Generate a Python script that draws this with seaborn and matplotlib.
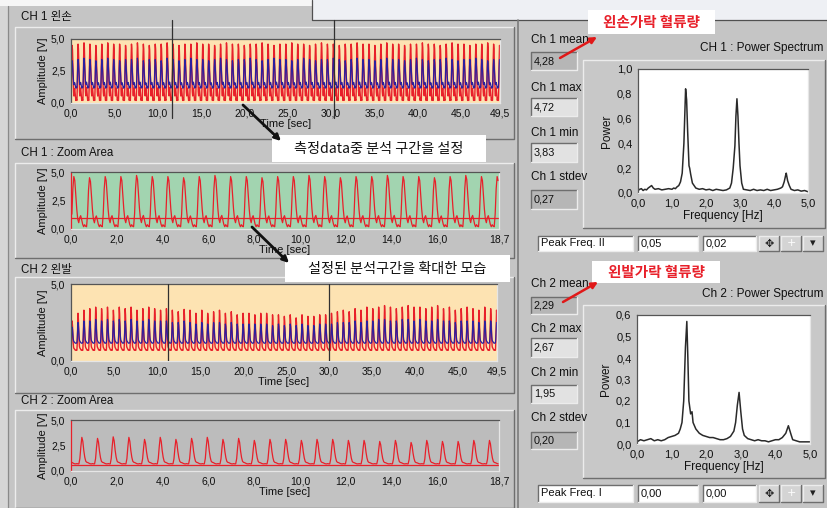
import numpy as np
import pandas as pd
import matplotlib
matplotlib.use("Agg")
import matplotlib.pyplot as plt
import seaborn as sns
from matplotlib.patches import Rectangle, FancyArrowPatch, Arc

# ---------------------------------------------------------------- data
PERIOD = 0.685          # seconds per pulse
T_END = 49.5            # record length [s]
ZOOM_LEN = 18.7         # zoom window length [s]

# one-cycle pulse shapes (0 = trough, 1 = peak), 16 samples per cycle
shape_ch1_red = [0.00, 0.25, 0.75, 1.00, 0.92, 0.65, 0.35, 0.15,
                 0.08, 0.18, 0.22, 0.14, 0.05, 0.00, 0.04, 0.01]
shape_ch1_blue = [0.05, 0.30, 0.75, 1.00, 0.90, 0.65, 0.40, 0.22,
                  0.15, 0.20, 0.22, 0.15, 0.08, 0.03, 0.06, 0.04]
shape_ch2_red = [0.00, 0.20, 0.65, 1.00, 0.85, 0.50, 0.25, 0.10,
                 0.06, 0.05, 0.03, 0.01, 0.00, 0.00, 0.01, 0.00]
shape_ch2_blue = [0.03, 0.25, 0.65, 1.00, 0.88, 0.55, 0.30, 0.15,
                  0.10, 0.08, 0.05, 0.02, 0.01, 0.00, 0.01, 0.01]

# per-cycle peak levels [V]
ch1_red_peaks = [4.5, 4.6, 4.7, 4.6, 4.5, 4.6, 4.7, 4.6, 4.6, 4.5,
                 4.6, 4.7, 4.6, 4.5, 4.6, 4.6, 4.7, 4.6, 4.5, 4.6,
                 4.6, 4.7, 4.6, 4.6, 4.5, 4.6, 4.7, 4.6, 4.6, 4.5,
                 4.6, 4.6, 4.7, 4.6, 4.5, 4.6, 4.6, 4.7, 4.6, 4.6,
                 4.5, 4.6, 4.7, 4.6, 4.6, 4.5, 4.6, 4.6, 4.7, 4.6,
                 4.6, 4.5, 4.6, 4.7, 4.6, 4.6, 4.5, 4.6, 4.6, 4.7,
                 4.6, 4.6, 4.5, 4.6, 4.7, 4.6, 4.6, 4.5, 4.6, 4.6,
                 4.7, 4.6, 4.5]
ch1_blue_peaks = [3.3, 3.4, 3.5, 3.4, 3.3, 3.4, 3.5, 3.4, 3.3, 3.4,
                  3.4, 3.5, 3.3, 3.4, 3.4, 3.3, 3.5, 3.4, 3.3, 3.4,
                  3.5, 3.4, 3.4, 3.3, 3.4, 3.5, 3.4, 3.3, 3.4, 3.4,
                  3.5, 3.4, 3.3, 3.4, 3.5, 3.4, 3.4, 3.3, 3.4, 3.5,
                  3.4, 3.3, 3.4, 3.4, 3.5, 3.4, 3.3, 3.4, 3.5, 3.4,
                  3.4, 3.3, 3.4, 3.5, 3.4, 3.4, 3.3, 3.4, 3.5, 3.4,
                  3.3, 3.4, 3.4, 3.5, 3.4, 3.3, 3.4, 3.4, 3.5, 3.4,
                  3.3, 3.4, 3.4]
ch2_red_peaks = [2.6, 3.1, 3.3, 3.4, 3.5, 3.4, 3.5, 3.3, 3.5, 3.4,
                 3.5, 3.3, 3.4, 3.5, 3.4, 3.3, 3.4, 3.3, 3.2, 3.35,
                 3.3, 3.1, 3.3, 3.1, 3.2, 3.3, 3.1, 3.2, 3.0, 3.1,
                 3.1, 3.0, 3.1, 3.1, 3.0, 3.0, 2.9, 3.0, 2.8, 3.0,
                 2.9, 2.9, 3.0, 3.0, 3.1, 3.2, 3.3, 3.2, 3.4, 3.3,
                 3.5, 3.4, 3.5, 3.6, 3.5, 3.4, 3.5, 3.6, 3.5, 3.5,
                 3.4, 3.5, 3.6, 3.4, 3.5, 3.3, 3.4, 3.5, 3.4, 3.3,
                 3.5, 3.4, 3.3]
ch2_blue_peaks = [2.2, 2.5, 2.6, 2.6, 2.7, 2.6, 2.7, 2.6, 2.7, 2.6,
                  2.7, 2.6, 2.6, 2.7, 2.6, 2.6, 2.6, 2.5, 2.5, 2.6,
                  2.5, 2.4, 2.5, 2.4, 2.5, 2.5, 2.4, 2.5, 2.4, 2.4,
                  2.4, 2.4, 2.4, 2.4, 2.3, 2.4, 2.3, 2.4, 2.3, 2.4,
                  2.3, 2.3, 2.4, 2.4, 2.4, 2.5, 2.5, 2.5, 2.6, 2.5,
                  2.6, 2.6, 2.7, 2.7, 2.6, 2.6, 2.7, 2.7, 2.6, 2.7,
                  2.6, 2.6, 2.7, 2.6, 2.6, 2.5, 2.6, 2.6, 2.6, 2.5,
                  2.6, 2.6, 2.5]
ch1_red_base, ch1_blue_base = 0.2, 1.1
ch2_red_base, ch2_blue_base = 0.7, 1.15

ch1_cursors = [11.65, 30.35]
ch2_cursors = [11.3, 30.0]
ch1_level = 1.0
ch2_level = 0.55

# power spectra
spec1_freq = [0.00, 0.05, 0.10, 0.15, 0.20, 0.25, 0.30, 0.35, 0.40, 0.45,
              0.50, 0.60, 0.70, 0.80, 0.90, 1.00, 1.05, 1.10, 1.15, 1.20,
              1.25, 1.30, 1.35, 1.40, 1.43, 1.46, 1.50, 1.52, 1.55, 1.60,
              1.65, 1.70, 1.80, 1.90, 2.00, 2.10, 2.20, 2.30, 2.40, 2.50,
              2.60, 2.70, 2.75, 2.80, 2.85, 2.88, 2.91, 2.94, 2.97, 3.00,
              3.05, 3.10, 3.20, 3.30, 3.40, 3.50, 3.60, 3.70, 3.80, 3.90,
              4.00, 4.10, 4.20, 4.25, 4.30, 4.34, 4.36, 4.40, 4.45, 4.50,
              4.60, 4.70, 4.80, 4.90, 5.00]
spec1_power = [0.02, 0.03, 0.035, 0.02, 0.03, 0.025, 0.04, 0.05, 0.06, 0.04,
               0.03, 0.035, 0.025, 0.03, 0.035, 0.03, 0.04, 0.035, 0.05, 0.06,
               0.09, 0.16, 0.40, 0.84, 0.75, 0.50, 0.22, 0.20, 0.15, 0.08,
               0.06, 0.04, 0.03, 0.035, 0.025, 0.03, 0.02, 0.03, 0.025, 0.02,
               0.025, 0.04, 0.08, 0.20, 0.38, 0.62, 0.76, 0.62, 0.40, 0.22,
               0.08, 0.03, 0.025, 0.02, 0.03, 0.02, 0.025, 0.02, 0.03, 0.02,
               0.025, 0.03, 0.04, 0.05, 0.09, 0.14, 0.16, 0.10, 0.06, 0.03,
               0.02, 0.025, 0.015, 0.02, 0.01]
spec2_freq = [0.00, 0.10, 0.20, 0.30, 0.40, 0.50, 0.60, 0.70, 0.80, 0.90,
              1.00, 1.10, 1.20, 1.25, 1.30, 1.35, 1.40, 1.44, 1.47, 1.50,
              1.55, 1.59, 1.62, 1.70, 1.80, 1.90, 2.00, 2.10, 2.20, 2.30,
              2.40, 2.50, 2.60, 2.70, 2.80, 2.85, 2.90, 2.95, 3.00, 3.05,
              3.10, 3.20, 3.30, 3.40, 3.50, 3.60, 3.70, 3.80, 3.90, 4.00,
              4.10, 4.20, 4.30, 4.375, 4.45, 4.50, 4.60, 4.70, 4.80, 4.90,
              5.00]
spec2_power = [0.01, 0.02, 0.015, 0.02, 0.025, 0.015, 0.02, 0.015, 0.02, 0.03,
               0.035, 0.04, 0.05, 0.07, 0.10, 0.20, 0.45, 0.57, 0.40, 0.20,
               0.14, 0.15, 0.10, 0.07, 0.05, 0.04, 0.035, 0.03, 0.03, 0.025,
               0.02, 0.02, 0.025, 0.035, 0.06, 0.10, 0.18, 0.24, 0.15, 0.07,
               0.04, 0.025, 0.02, 0.015, 0.02, 0.015, 0.015, 0.01, 0.015, 0.02,
               0.02, 0.03, 0.05, 0.085, 0.045, 0.02, 0.015, 0.01, 0.01, 0.01,
               0.01]

stats_ch1 = [("Ch 1 mean", "4,28"), ("Ch 1 max", "4,72"),
             ("Ch 1 min", "3,83"), ("Ch 1 stdev", "0,27")]
stats_ch2 = [("Ch 2 mean", "2,29"), ("Ch 2 max", "2,67"),
             ("Ch 2 min", "1,95"), ("Ch 2 stdev", "0,20")]
peak_ch1 = ["Peak Freq. II", "0,05", "0,02"]
peak_ch2 = ["Peak Freq. I", "0,00", "0,00"]

ov_xticks = [0, 5, 10, 15, 20, 25, 30, 35, 40, 45, 49.5]
zm_xticks = [0, 2, 4, 6, 8, 10, 12, 14, 16, 18.7]


def build(peaks, base, shape):
    n = len(shape)
    t, v = [], []
    for k, pk in enumerate(peaks):
        for j, s in enumerate(shape):
            t.append((k + j / n) * PERIOD)
            v.append(base + s * (pk - base))
    df = pd.DataFrame({"t": t, "v": v})
    return df[df.t <= T_END].reset_index(drop=True)


def window(df, start):
    w = df[(df.t >= start) & (df.t <= start + ZOOM_LEN)].copy()
    w["t"] = w["t"] - start
    return w


ch1_red = build(ch1_red_peaks, ch1_red_base, shape_ch1_red)
ch1_blue = build(ch1_blue_peaks, ch1_blue_base, shape_ch1_blue)
ch2_red = build(ch2_red_peaks, ch2_red_base, shape_ch2_red)
ch2_blue = build(ch2_blue_peaks, ch2_blue_base, shape_ch2_blue)
ch1_zoom = window(ch1_red, ch1_cursors[0])
ch2_zoom = window(ch2_red, ch2_cursors[0])
spec1 = pd.DataFrame({"f": spec1_freq, "p": spec1_power})
spec2 = pd.DataFrame({"f": spec2_freq, "p": spec2_power})

# ---------------------------------------------------------------- style
sns.set_style("white")
plt.rcParams["font.family"] = ["Liberation Sans", "Noto Sans CJK KR", "DejaVu Sans"]
NARROW = ["Liberation Sans", "DejaVu Sans"]
KOR = ["Liberation Sans", "Noto Sans CJK KR"]

W, H = 827, 508
PANEL = "#c5c5c5"
RED = "#e8202a"
BLUE = "#2c1f9e"
ORANGE = "#fde3b2"
GREEN = "#a2d4b0"

fig = plt.figure(figsize=(W / 100, H / 100), dpi=100, facecolor=PANEL)

bg = fig.add_axes([0, 0, 1, 1])
bg.set_xlim(0, W)
bg.set_ylim(H, 0)
bg.axis("off")
bg.set_zorder(-5)

fg = fig.add_axes([0, 0, 1, 1])
fg.set_xlim(0, W)
fg.set_ylim(H, 0)
fg.axis("off")
fg.patch.set_alpha(0)
fg.set_zorder(20)


def rect(ax, x0, y0, x1, y1, face, edge="none", lw=0.8, z=1):
    ax.add_patch(Rectangle((x0, y0), x1 - x0, y1 - y0, facecolor=face,
                           edgecolor=edge, lw=lw, zorder=z))


def bevel(ax, x0, y0, x1, y1, face, sunken=False, light="#ececec",
          dark="#6e6e6e", lw=1.0, z=1):
    rect(ax, x0, y0, x1, y1, face, z=z)
    tl, br = (dark, light) if sunken else (light, dark)
    ax.plot([x0, x0, x1], [y1, y0, y0], color=tl, lw=lw, zorder=z + 0.1)
    ax.plot([x0, x1, x1], [y1, y1, y0], color=br, lw=lw, zorder=z + 0.1)


def px_axes(x0, y0, x1, y1):
    return fig.add_axes([x0 / W, 1 - y1 / H, (x1 - x0) / W, (y1 - y0) / H])


def comma(v, _=None):
    return f"{v:.1f}".replace(".", ",")


def style(ax, face, xlim, xticks, ylim, yticks, xlabel, ylabel,
          xlabelpad=0, ylabelpad=1):
    ax.set_facecolor(face)
    ax.set_xlim(*xlim)
    ax.set_ylim(*ylim)
    ax.set_xticks(xticks)
    ax.set_yticks(yticks)
    ax.set_xticklabels([comma(v) for v in xticks], family=NARROW, fontsize=7.5)
    ax.set_yticklabels([comma(v) for v in yticks], family=NARROW, fontsize=7.5)
    ax.tick_params(length=3, width=0.8, color="#202020", pad=1,
                   labelcolor="#101010")
    ax.set_xlabel(xlabel, fontsize=8, labelpad=xlabelpad, color="#101010")
    ax.set_ylabel(ylabel, fontsize=8, labelpad=ylabelpad, color="#101010")
    for s in ("left", "top"):
        ax.spines[s].set_color("#555555")
        ax.spines[s].set_linewidth(0.9)
    for s in ("right", "bottom"):
        ax.spines[s].set_color("#e6e6e6")
        ax.spines[s].set_linewidth(0.9)


# ---------------------------------------------------------------- panel chrome
rect(bg, 0, 0, W, H, PANEL, z=0)
rect(bg, 0, 0, W, 6, "#f6f6f6", z=0.5)
rect(bg, 312, 0, W, 20, "#eef0f4", z=0.5)
bg.plot([312, 312, W], [0, 20, 20], color="#505050", lw=0.9, zorder=0.6)
rect(bg, 0, 6, 8, H, "#d6d6d6", z=0.5)
bg.plot([8, 8], [6, H], color="#8a8a8a", lw=0.9, zorder=0.6)
bg.add_patch(Arc((205, -2), 28, 26, theta1=190, theta2=350, color="#707070",
                 lw=2.2, zorder=0.7))
bg.plot([518, 518], [20, H], color="#7c7c7c", lw=1.2, zorder=0.6)

left_frames = [(27, 139), (163, 258), (277, 393), (410, 508)]
for y0, y1 in left_frames:
    bevel(bg, 15, y0, 514, y1, "#c2c2c2", z=1)
headers = [("CH 1 왼손", 17), ("CH 1 : Zoom Area", 153),
           ("CH 2 왼발", 270), ("CH 2 : Zoom Area", 401)]
for txt, y in headers:
    bg.text(21, y, txt, fontsize=8.3, family=KOR, va="center", ha="left",
            color="#101010", zorder=2)

# right column: stats, spectrum frames, peak bars
for (stats, ys, frame, title, ty, peak, py) in [
        (stats_ch1, [(40, 52, 70), (88, 98, 116), (133, 143, 162), (177, 190, 209)],
         (583, 60, 825, 228), "CH 1 : Power Spectrum", 48, peak_ch1, (236, 251)),
        (stats_ch2, [(284, 297, 314), (329, 338, 357), (373, 385, 403), (418, 432, 449)],
         (583, 305, 825, 478), "Ch 2 : Power Spectrum", 294, peak_ch2, (485, 502))]:
    for (lab, val), (ly, b0, b1) in zip(stats, ys):
        bg.text(531, ly, lab, fontsize=8.5, va="center", ha="left",
                color="#101010", zorder=2)
        face = "#b6b6b6" if ("mean" in lab or "stdev" in lab) else "#e2e2e2"
        bevel(bg, 531, b0, 577, b1, face, sunken=True, z=1)
        bg.text(534, (b0 + b1) / 2, val, fontsize=7.8, family=NARROW,
                va="center", ha="left", color="#101010", zorder=2)
    bevel(bg, *frame, "#c8c8c8", z=1)
    bg.text(823, ty, title, fontsize=8.5, va="center", ha="right",
            color="#101010", zorder=2)
    y0, y1 = py
    for (x0, x1), txt in zip([(538, 633), (638, 698), (703, 756)], peak):
        bevel(bg, x0, y0, x1, y1, "#ffffff", sunken=True, z=1)
        bg.text(x0 + 3, (y0 + y1) / 2, txt, fontsize=8, family=NARROW,
                va="center", ha="left", color="#101010", zorder=2)
    for x0, sym in [(759, "✥"), (781, "+"), (803, "▾")]:
        bevel(bg, x0, y0, x0 + 20, y1, "#d4d4d4", z=1)
        bg.text(x0 + 10, (y0 + y1) / 2, sym, fontsize=8,
                family=["DejaVu Sans"], va="center", ha="center",
                color="#202020" if sym != "+" else "#ffffff", zorder=2)

# ---------------------------------------------------------------- graphs
ax1 = px_axes(71, 39, 500, 103)
sns.lineplot(data=ch1_red, x="t", y="v", ax=ax1, color=RED, lw=1.0,
             estimator=None, legend=False)
sns.lineplot(data=ch1_blue, x="t", y="v", ax=ax1, color=BLUE, lw=0.9,
             estimator=None, legend=False)
style(ax1, ORANGE, (0, T_END), ov_xticks, (0, 5), [0, 2.5, 5],
      "Time [sec]", "Amplitude [V]", xlabelpad=0, ylabelpad=2)
for c in ch1_cursors:
    ax1.axvline(c, ymin=-0.23, ymax=1.30, color="#303030", lw=0.9,
                clip_on=False, zorder=5)

ax2 = px_axes(71, 172, 499, 229)
sns.lineplot(data=ch1_zoom, x="t", y="v", ax=ax2, color=RED, lw=0.9,
             estimator=None, legend=False)
ax2.axhline(ch1_level, color=RED, lw=0.9)
style(ax2, GREEN, (0, ZOOM_LEN), zm_xticks, (0, 5), [0, 2.5, 5],
      "Time [sec]", "Amplitude [V]", xlabelpad=0, ylabelpad=2)
ax2.spines["left"].set_color(RED)

ax3 = px_axes(71, 284, 497, 361)
sns.lineplot(data=ch2_red, x="t", y="v", ax=ax3, color=RED, lw=1.0,
             estimator=None, legend=False)
sns.lineplot(data=ch2_blue, x="t", y="v", ax=ax3, color=BLUE, lw=0.9,
             estimator=None, legend=False)
style(ax3, ORANGE, (0, T_END), ov_xticks, (0, 5), [0, 5],
      "Time [sec]", "Amplitude [V]", xlabelpad=0, ylabelpad=2)
for c in ch2_cursors:
    ax3.axvline(c, color="#303030", lw=0.9, zorder=5)

ax4 = px_axes(71, 420, 499, 471)
sns.lineplot(data=ch2_zoom, x="t", y="v", ax=ax4, color=RED, lw=0.9,
             estimator=None, legend=False)
ax4.axhline(ch2_level, color=RED, lw=0.9)
style(ax4, "#bcbcbc", (0, ZOOM_LEN), zm_xticks, (0, 5), [0, 2.5, 5],
      "Time [sec]", "Amplitude [V]", xlabelpad=0, ylabelpad=2)
ax4.spines["left"].set_color(RED)

sp1 = px_axes(638, 69, 808, 193)
sns.lineplot(data=spec1, x="f", y="p", ax=sp1, color="#2a2a2a", lw=1.1,
             estimator=None, legend=False)
style(sp1, "white", (0, 5), [0, 1, 2, 3, 4, 5], (0, 1.0),
      [0, 0.2, 0.4, 0.6, 0.8, 1.0], "Frequency [Hz]", "Power",
      xlabelpad=1, ylabelpad=3)

sp2 = px_axes(637, 315, 810, 444)
sns.lineplot(data=spec2, x="f", y="p", ax=sp2, color="#2a2a2a", lw=1.1,
             estimator=None, legend=False)
style(sp2, "white", (0, 5), [0, 1, 2, 3, 4, 5], (0, 0.6),
      [0, 0.1, 0.2, 0.3, 0.4, 0.5, 0.6], "Frequency [Hz]", "Power",
      xlabelpad=1, ylabelpad=3)
for ax in (sp1, sp2):
    for lab in ax.get_xticklabels() + ax.get_yticklabels():
        lab.set_fontsize(8)
    ax.xaxis.label.set_fontsize(8.5)
    ax.yaxis.label.set_fontsize(8.5)

# ---------------------------------------------------------------- callouts
KFONT = ["Noto Sans CJK KR"]
notes = [((588, 10, 715, 34), "왼손가락 혈류량", RED, "bold", 10.5),
         ((592, 261, 720, 283), "왼발가락 혈류량", RED, "bold", 10.5),
         ((272, 135, 486, 162), "측정data중 분석 구간을 설정", "#111111", "normal", 10.2),
         ((285, 255, 510, 282), "설정된 분석구간을 확대한 모습", "#111111", "normal", 10.2)]
for (x0, y0, x1, y1), txt, col, wt, fs in notes:
    rect(fg, x0, y0, x1, y1, "white", z=1)
    fg.text((x0 + x1) / 2, (y0 + y1) / 2 + 0.5, txt, fontsize=fs, family=KFONT,
            color=col, weight=wt, ha="center", va="center", zorder=2)

arrows = [((560, 58), (597, 37), "#e01818", 1.8),
          ((563, 302), (598, 282), "#e01818", 1.8),
          ((243, 105), (281, 141), "#111111", 2.0),
          ((252, 227), (289, 263), "#111111", 2.0)]
for start, end, col, lw in arrows:
    fg.add_patch(FancyArrowPatch(start, end, arrowstyle="-|>", mutation_scale=9,
                                 color=col, lw=lw, zorder=3,
                                 shrinkA=0, shrinkB=0))

fig.savefig("out.png", dpi=100, facecolor=PANEL)
